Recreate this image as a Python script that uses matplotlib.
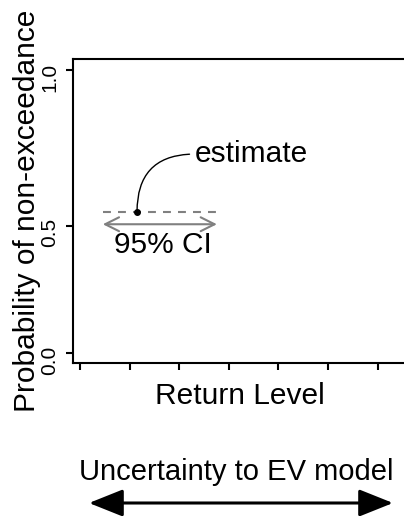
import matplotlib.pyplot as plt

plt.rcParams['font.family'] = ['Liberation Sans', 'DejaVu Sans']

# schematic values (axis units)
prob_ticks = [0.0, 0.45, 1.0]
prob_labels = ["0.0", "0.5", "1.0"]
rl_ticks = [1, 2, 3, 4, 5, 6, 7]
ci_low = 1.46
ci_high = 3.76
ci_y = 0.455
est_x = 2.15
est_y = 0.50
est_text_x = 3.32
est_text_y = 0.703
ci_text_x = 2.68
ci_text_y = 0.382

fig = plt.figure(figsize=(4.04, 5.16), dpi=100)
ax = fig.add_axes([73/404, (516-363)/516, (407-73)/404, 304/516])

grey = '#808080'
ax.plot([ci_low, ci_high], [est_y, est_y], color=grey, lw=1.5, ls=(0, (3.8, 3.4)))
ax.annotate('', xy=(ci_low, ci_y), xytext=(ci_high, ci_y),
            arrowprops=dict(arrowstyle='<->,head_length=0.5,head_width=0.25',
                            color=grey, lw=1.5, shrinkA=0, shrinkB=0,
                            mutation_scale=20))
ax.plot([est_x], [est_y], 'o', color='black', ms=4)

ax.annotate('estimate', xy=(est_x, est_y), xytext=(est_text_x, est_text_y),
            fontsize=21.5, ha='left', va='center',
            arrowprops=dict(arrowstyle='-', color='black', lw=1.0,
                            connectionstyle='angle3,angleA=0,angleB=90',
                            relpos=(0, 0.5), shrinkA=2, shrinkB=0))
ax.text(ci_text_x, ci_text_y, '95% CI', fontsize=21.5, ha='center', va='center')

ax.set_xticks(rl_ticks)
ax.set_xticklabels([])
ax.set_yticks(prob_ticks)
ax.set_yticklabels(prob_labels)
ax.set_xlim(0.859, 7.593)
ax.set_ylim(-0.0353, 1.0389)
ax.tick_params(axis='y', labelrotation=90, labelsize=15, length=5, width=1.5, pad=5)
ax.tick_params(axis='x', length=5, width=1.5)
for s in ax.spines.values():
    s.set_linewidth(1.5)

ax.set_xlabel('Return Level', fontsize=21.5, labelpad=5)
ax.set_ylabel('Probability of non-exceedance', fontsize=21.5)
ax.yaxis.set_label_coords(-0.096, 0.5)

fig.text(236/404, 1 - 472/516, 'Uncertainty to EV model', fontsize=21,
         ha='center', va='center')
ax.annotate('', xy=(89, 13), xytext=(393, 13), xycoords='figure pixels',
            textcoords='figure pixels',
            arrowprops=dict(arrowstyle='<|-|>,head_length=1.05,head_width=0.42',
                            color='black', lw=2.2, shrinkA=0, shrinkB=0,
                            mutation_scale=20))

fig.savefig('out.png', dpi=100)
